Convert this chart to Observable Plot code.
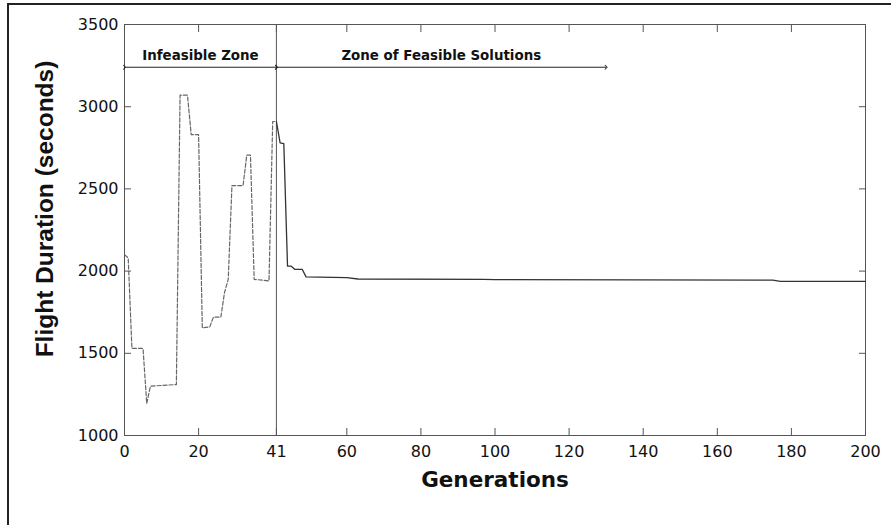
<!DOCTYPE html>
<html><head><meta charset="utf-8">
<script src="https://cdn.jsdelivr.net/npm/d3@7"></script>
<script src="https://cdn.jsdelivr.net/npm/@observablehq/plot@0.6"></script>
<style>
body{margin:0;background:#fff;overflow:hidden}
#frame{position:absolute;left:7px;top:3px;width:920px;height:560px;border-left:2px solid #222;border-top:2px solid #222;}
#chart{position:absolute;left:0;top:0}
</style></head><body><div id="frame"></div><div id="chart"></div>
<script>
// Infeasible zone (dashed)
const infeasibleGen = [0, 1, 2, 5, 6, 7, 14, 15, 17, 18, 20, 21, 23, 24, 26, 27, 28, 29, 32, 33, 34, 35, 39, 40, 41];
const infeasibleDur = [2100, 2080, 1530, 1530, 1195, 1300, 1310, 3070, 3070, 2830, 2830, 1655, 1660, 1720, 1720, 1870, 1950, 2520, 2520, 2705, 2705, 1950, 1940, 2910, 2910];
// Feasible zone (solid)
const feasibleGen = [41, 42, 43, 44, 45, 46, 48, 49, 60, 63, 97, 100, 175, 177, 200];
const feasibleDur = [2910, 2780, 2775, 2030, 2030, 2010, 2010, 1965, 1960, 1952, 1950, 1948, 1945, 1938, 1938];

const xTicks = [0, 20, 41, 60, 80, 100, 120, 140, 160, 180, 200];
const yTicks = [1000, 1500, 2000, 2500, 3000, 3500];
const zoneLabels = ["Infeasible Zone", "Zone of Feasible Solutions"];
const zoneStart = [0, 41];
const zoneEnd = [41, 130];
const zoneArrowY = 3240;
const boundaryGen = 41;

const infeasible = infeasibleGen.map((g, i) => ({gen: g, dur: infeasibleDur[i]}));
const feasible = feasibleGen.map((g, i) => ({gen: g, dur: feasibleDur[i]}));
const zones = zoneLabels.map((t, i) => ({label: t, x1: zoneStart[i], x2: zoneEnd[i], y: zoneArrowY}));

const chart = Plot.plot({
  width: 891, height: 525,
  marginLeft: 124, marginRight: 26, marginTop: 24, marginBottom: 90,
  style: {fontFamily: "'DejaVu Sans', sans-serif", fontSize: "16px", color: "#111", background: "transparent"},
  x: {domain: [0, 200]},
  y: {domain: [1000, 3500]},
  marks: [
    Plot.frame({stroke: "#555"}),
    Plot.axisX({ticks: xTicks, tickSize: -7, tickPadding: 17, label: null, tickFormat: d => String(d), stroke: "#555"}),
    Plot.axisX({anchor: "top", ticks: xTicks, tickSize: -7, label: null, tickFormat: () => "", stroke: "#555"}),
    Plot.axisY({ticks: yTicks, tickSize: -7, tickPadding: 13, label: null, tickFormat: d => String(d), stroke: "#555"}),
    Plot.axisY({anchor: "right", ticks: yTicks, tickSize: -7, label: null, tickFormat: () => "", stroke: "#555"}),
    Plot.ruleX([boundaryGen], {stroke: "#555"}),
    Plot.line(infeasible, {x: "gen", y: "dur", stroke: "#666", strokeWidth: 1.2, strokeDasharray: "4,2"}),
    Plot.line(feasible, {x: "gen", y: "dur", stroke: "#333", strokeWidth: 1.3}),
    Plot.link(zones, {x1: "x1", x2: "x2", y1: "y", y2: "y", stroke: "#222", markerStart: "arrow", markerEnd: "arrow"}),
    Plot.text(zones, {x: d => (d.x1 + d.x2) / 2, y: "y", dy: -12, text: "label", fontWeight: "bold", fontSize: 13.4, fill: "#111"}),
    Plot.text(["Generations"], {frameAnchor: "bottom", dy: 51, fontWeight: "bold", fontSize: 21.5, fill: "#111"}),
    Plot.text(["Flight Duration (seconds)"], {frameAnchor: "left", textAnchor: "middle", rotate: -90, dx: -79, dy: -21, fontWeight: "bold", fontSize: 24.5, fontFamily: "'Liberation Sans', Arial, sans-serif", fill: "#111"})
  ]
});
document.getElementById("chart").appendChild(chart);
</script>
</body></html>
